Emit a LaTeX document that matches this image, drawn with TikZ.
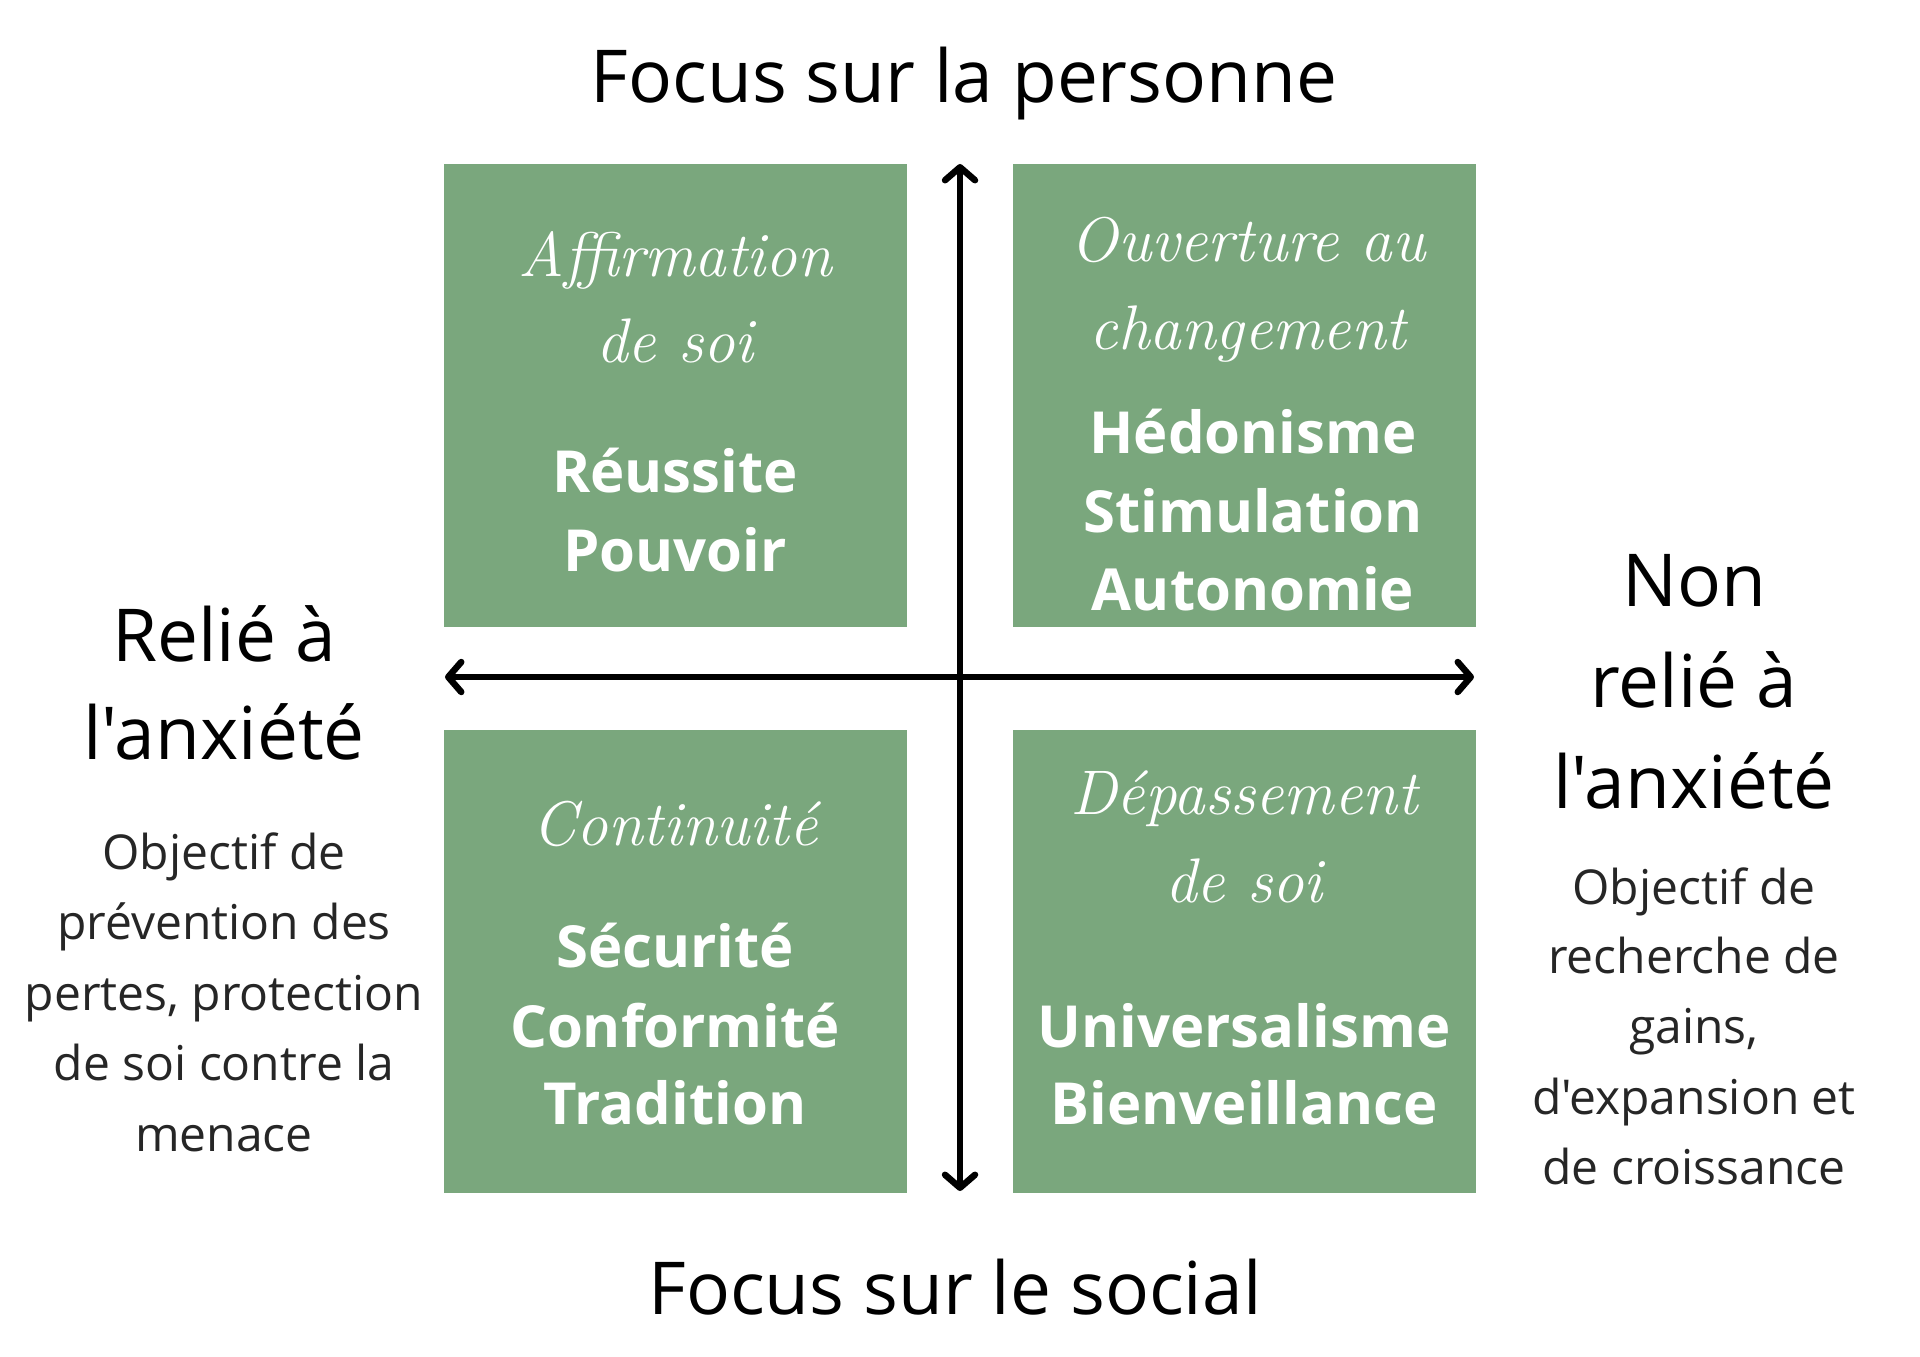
\documentclass[tikz,border=0pt]{standalone}
\usepackage{fontspec}
\setmainfont{Open Sans}[Ligatures=TeXOff]
\newfontfamily\hand{Latin Modern Roman}
\usetikzlibrary{arrows.meta}
\definecolor{boxgreen}{RGB}{122,167,125}
\tikzset{
  box/.style={fill=boxgreen, draw=none, inner sep=0pt, outer sep=0pt, minimum width=463pt, minimum height=463pt},
  axis/.style={line width=6.5pt, line cap=round, line join=round, {Straight Barb[length=13pt,width=30pt,line cap=round,line join=round]}-{Straight Barb[length=13pt,width=30pt,line cap=round,line join=round]}},
  title/.style={anchor=base, inner sep=0pt, font=\fontsize{73}{88}\selectfont},
  side/.style={anchor=base, inner sep=0pt, font=\fontsize{48}{58}\selectfont, text=black!85},
  cursive/.style={anchor=base, inner sep=0pt, text=white, font=\hand\itshape\fontsize{63}{76}\selectfont},
  val/.style={anchor=base, inner sep=0pt, text=white, font=\bfseries\fontsize{58}{70}\selectfont}
}
\begin{document}
\begin{tikzpicture}[x=1pt,y=-1pt]
\useasboundingbox[fill=white] (0,0) rectangle (1920,1357);
% boxes
\node[box] (tl) at (675.5,395.5) {};
\node[box] (tr) at (1244,395.5) {};
\node[box] (bl) at (675.5,961.5) {};
\node[box] (br) at (1244,961.5) {};
% axes
\coordinate (vt) at (960,164);
\coordinate (vb) at (960,1191);
\coordinate (hl) at (445,677);
\coordinate (hr) at (1474,677);
\draw[axis] (vt) -- (vb);
\draw[axis] (hl) -- (hr);
% titles
\node[title] (ttop) at (964,102) {Focus sur la personne};
\node[title] (tbot) at (955,1314) {Focus sur le social};
% left side
\node[title] (l1) at (224,661) {Relié à};
\node[title] (l2) at (224,759) {l'anxiété};
\node[side] (ls1) at (224,869) {Objectif de};
\node[side] (ls2) at (224,939) {prévention des};
\node[side] (ls3) at (224,1010) {pertes, protection};
\node[side] (ls4) at (224,1080) {de soi contre la};
\node[side] (ls5) at (224,1151) {menace};
% right side
\node[title] (r1) at (1694,606) {Non};
\node[title] (r2) at (1694,707) {relié à};
\node[title] (r3) at (1694,808) {l'anxiété};
\node[side] (rs1) at (1694,904) {Objectif de};
\node[side] (rs2) at (1694,973) {recherche de};
\node[side] (rs3) at (1694,1043) {gains,};
\node[side] (rs4) at (1694,1114) {d'expansion et};
\node[side] (rs5) at (1694,1184) {de croissance};
% top-left box text
\node[cursive] (tlc1) at (675,276) {Affirmation};
\node[cursive] (tlc2) at (675,362) {de soi};
\node[val] (tlv1) at (675,492) {Réussite};
\node[val] (tlv2) at (675,571) {Pouvoir};
% top-right box text
\node[cursive] (trc1) at (1248,261) {Ouverture au};
\node[cursive] (trc2) at (1248,349) {changement};
\node[val] (trv1) at (1253,453) {Hédonisme};
\node[val] (trv2) at (1253,532) {Stimulation};
\node[val] (trv3) at (1253,610) {Autonomie};
% bottom-left box text
\node[cursive] (blc1) at (675,845) {Continuité};
\node[val] (blv1) at (675,967) {Sécurité};
\node[val] (blv2) at (675,1047) {Conformité};
\node[val] (blv3) at (675,1124) {Tradition};
% bottom-right box text
\node[cursive] (brc1) at (1244,814) {Dépassement};
\node[cursive] (brc2) at (1244,902) {de soi};
\node[val] (brv1) at (1244,1047) {Universalisme};
\node[val] (brv2) at (1244,1124) {Bienveillance};
\end{tikzpicture}
\end{document}
